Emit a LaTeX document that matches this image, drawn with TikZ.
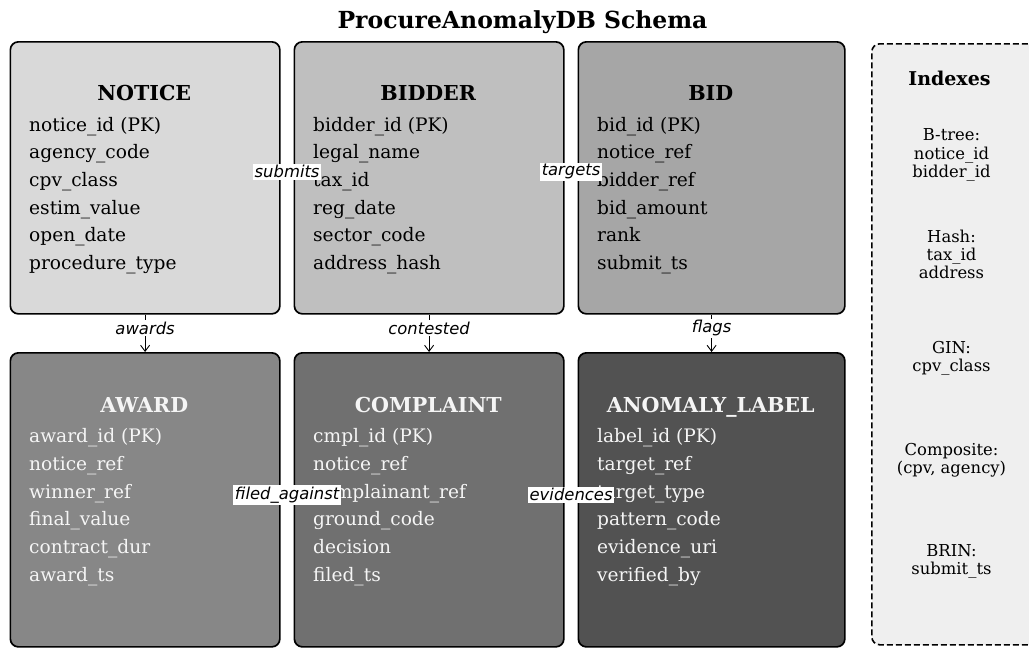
\documentclass[tikz,border=0pt]{standalone}
\usepackage{fontspec}
\setmainfont{DejaVu Serif}
\newfontfamily\lblfont{DejaVu Sans Oblique}
\usetikzlibrary{arrows.meta}
\definecolor{cNotice}{HTML}{D9D9D9}
\definecolor{cBidder}{HTML}{BFBFBF}
\definecolor{cBid}{HTML}{A6A6A6}
\definecolor{cAward}{HTML}{878787}
\definecolor{cCompl}{HTML}{707070}
\definecolor{cAnom}{HTML}{525252}
\definecolor{cIdx}{HTML}{EFEFEF}
\definecolor{lightTxt}{HTML}{F5F5F5}
\begin{document}
\begin{tikzpicture}[x=1pt,y=-1pt,
  entity/.style={draw=black, line width=1.7pt, rounded corners=8pt, minimum width=269.5pt,
    minimum height=272pt, inner sep=0pt, anchor=north west},
  head/.style={anchor=base, inner sep=0pt, font=\bfseries\fontsize{20.6}{24}\selectfont},
  field/.style={anchor=base west, inner sep=0pt, font=\fontsize{18.6}{22}\selectfont},
  idxtxt/.style={anchor=base, inner sep=0pt, font=\fontsize{16.4}{19}\selectfont},
  lbl/.style={fill=white, inner sep=1.5pt, text=black, font=\lblfont\fontsize{16.4}{18}\selectfont},
  arr/.style={draw=black, line width=0.9pt, -{Straight Barb[length=6pt,width=9pt]}}
]
\useasboundingbox (0,0) rectangle (1029,648);
\clip (0,0) rectangle (1029,648);

\node[anchor=base, inner sep=0pt, font=\bfseries\fontsize{23.5}{27}\selectfont] (title) at (522.5,28.3) {ProcureAnomalyDB Schema};

% entity boxes
\node[entity, fill=cNotice] (notice) at (9.5,41) {};
\node[entity, fill=cBidder] (bidder) at (293.5,41) {};
\node[entity, fill=cBid, minimum width=266.5pt] (bid) at (577.5,41) {};
\node[entity, fill=cAward, minimum height=294pt] (award) at (9.5,352) {};
\node[entity, fill=cCompl, minimum height=294pt] (complaint) at (293.5,352) {};
\node[entity, fill=cAnom, minimum width=266.5pt, minimum height=294pt] (anomaly) at (577.5,352) {};

% index panel
\node[draw=black, dash pattern=on 6pt off 3pt, line width=1.6pt, rounded corners=8pt, fill=cIdx,
  anchor=north west, minimum width=200pt, minimum height=601pt, inner sep=0pt] (idx) at (871,43) {};

% headings
\node[head] (h-notice) at (144.25,100.7) {NOTICE};
\node[head] (h-bidder) at (428.25,100.7) {BIDDER};
\node[head] (h-bid) at (710.75,100.7) {BID};
\node[head, text=lightTxt] (h-award) at (144.25,412.7) {AWARD};
\node[head, text=lightTxt] (h-complaint) at (428.25,412.7) {COMPLAINT};
\node[head, text=lightTxt] (h-anomaly) at (710.75,412.7) {ANOMALY\_LABEL};

% fields
\foreach \t [count=\i from 0] in {notice\_id (PK),agency\_code,cpv\_class,estim\_value,open\_date,procedure\_type}
  \node[field] (f-notice-\i) at (29,131+27.7*\i) {\t};
\foreach \t [count=\i from 0] in {bidder\_id (PK),legal\_name,tax\_id,reg\_date,sector\_code,address\_hash}
  \node[field] (f-bidder-\i) at (313,131+27.7*\i) {\t};
\foreach \t [count=\i from 0] in {bid\_id (PK),notice\_ref,bidder\_ref,bid\_amount,rank,submit\_ts}
  \node[field] (f-bid-\i) at (597,131+27.7*\i) {\t};
\foreach \t [count=\i from 0] in {award\_id (PK),notice\_ref,winner\_ref,final\_value,contract\_dur,award\_ts}
  \node[field, text=lightTxt] (f-award-\i) at (29,442.7+27.7*\i) {\t};
\foreach \t [count=\i from 0] in {cmpl\_id (PK),notice\_ref,complainant\_ref,ground\_code,decision,filed\_ts}
  \node[field, text=lightTxt] (f-complaint-\i) at (313,442.7+27.7*\i) {\t};
\foreach \t [count=\i from 0] in {label\_id (PK),target\_ref,target\_type,pattern\_code,evidence\_uri,verified\_by}
  \node[field, text=lightTxt] (f-anomaly-\i) at (597,442.7+27.7*\i) {\t};

% index texts
\node[anchor=base, inner sep=0pt, font=\bfseries\fontsize{19}{23}\selectfont] (h-idx) at (949.5,85) {Indexes};
\foreach \t [count=\i from 0] in {B-tree:,notice\_id,bidder\_id}
  \node[idxtxt] (i-btree-\i) at (951.5,140.7+18.3*\i) {\t};
\foreach \t [count=\i from 0] in {Hash:,tax\_id,address}
  \node[idxtxt] (i-hash-\i) at (951.5,242.3+18.3*\i) {\t};
\foreach \t [count=\i from 0] in {GIN:,cpv\_class}
  \node[idxtxt] (i-gin-\i) at (951.5,353.3+18.3*\i) {\t};
\foreach \t [count=\i from 0] in {Composite:,{(cpv, agency)}}
  \node[idxtxt] (i-comp-\i) at (951.5,455+18.3*\i) {\t};
\foreach \t [count=\i from 0] in {BRIN:,submit\_ts}
  \node[idxtxt] (i-brin-\i) at (951.5,556+18.3*\i) {\t};

% relationships
\draw[arr] ([yshift=6pt]notice.east) -- node[lbl] (l-submits) {submits} ([yshift=6pt]bidder.west);
\draw[arr] ([yshift=6pt]bidder.east) -- node[lbl] (l-targets) {targets} ([yshift=6pt]bid.west);
\draw[arr] ([yshift=5pt]award.east) -- node[lbl] (l-filed) {filed\_against} ([yshift=5pt]complaint.west);
\draw[arr] ([yshift=5pt]complaint.east) -- node[lbl] (l-evid) {evidences} ([yshift=5pt]anomaly.west);
\draw[arr] (notice.south) -- node[lbl, pos=0.36] (l-awards) {awards} (award.north);
\draw[arr] (bidder.south) -- node[lbl, pos=0.36] (l-contested) {contested} (complaint.north);
\draw[arr] (bid.south) -- node[lbl, pos=0.36] (l-flags) {flags} (anomaly.north);
\end{tikzpicture}
\end{document}
